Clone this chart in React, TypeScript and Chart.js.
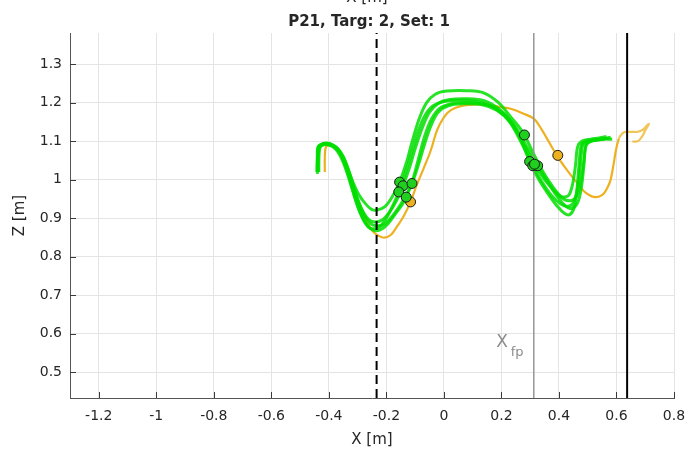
import React, { useEffect, useRef } from 'react';
import { Chart, registerables } from 'chart.js';

Chart.register(...registerables);

type P = [number, number];

const FONT = "'DejaVu Sans', 'Liberation Sans', sans-serif";
const TEXT = '#262626';

// Axis extents and tick values
const xRange: P = [-1.3, 0.8];
const zRange: P = [0.4325, 1.381];
const xTicks = [-1.2, -1, -0.8, -0.6, -0.4, -0.2, 0, 0.2, 0.4, 0.6, 0.8];
const zTicks = [0.5, 0.6, 0.7, 0.8, 0.9, 1.0, 1.1, 1.2, 1.3];

const titleText = 'P21, Targ: 2, Set: 1';
const upperLabel = 'X [m]';

// Reference lines (X positions, m)
const startLineX = -0.234;
const fpLineX = 0.3125;
const endLineX = 0.637;

// Hand trajectories in the X–Z plane (X, Z in metres)
const trialA: P[] = [
  [-0.442, 1.02], [-0.44, 1.06], [-0.438, 1.085], [-0.42, 1.092], [-0.395, 1.09], [-0.37, 1.08],
  [-0.345, 1.05], [-0.32, 1.0], [-0.295, 0.96], [-0.27, 0.935], [-0.25, 0.922], [-0.232, 0.921],
  [-0.205, 0.93], [-0.18, 0.955], [-0.154, 0.9935], [-0.13, 1.045], [-0.11, 1.1], [-0.085, 1.16],
  [-0.06, 1.2], [-0.03, 1.222], [0.01, 1.23], [0.08, 1.231], [0.14, 1.225], [0.19, 1.2],
  [0.23, 1.165], [0.258, 1.14], [0.28, 1.116], [0.31, 1.07], [0.345, 1.02], [0.38, 0.98],
  [0.405, 0.958], [0.42, 0.955], [0.435, 0.96], [0.448, 0.99], [0.458, 1.04], [0.465, 1.085],
  [0.48, 1.1], [0.51, 1.105], [0.54, 1.108], [0.565, 1.112],
];

const trialB: P[] = [
  [-0.44, 1.015], [-0.437, 1.07], [-0.43, 1.09], [-0.405, 1.093], [-0.38, 1.085], [-0.355, 1.06],
  [-0.33, 1.01], [-0.305, 0.955], [-0.28, 0.915], [-0.26, 0.895], [-0.24, 0.89], [-0.215, 0.895],
  [-0.19, 0.915], [-0.165, 0.945], [-0.142, 0.984], [-0.12, 1.03], [-0.1, 1.08], [-0.075, 1.135],
  [-0.05, 1.175], [-0.02, 1.198], [0.02, 1.208], [0.08, 1.21], [0.14, 1.205], [0.19, 1.185],
  [0.235, 1.15], [0.27, 1.1], [0.298, 1.047], [0.33, 1.0], [0.365, 0.96], [0.395, 0.93],
  [0.42, 0.912], [0.437, 0.909], [0.452, 0.925], [0.462, 0.97], [0.47, 1.04], [0.478, 1.09],
  [0.495, 1.1], [0.53, 1.104], [0.57, 1.108],
];

const trialC: P[] = [
  [-0.435, 1.02], [-0.433, 1.075], [-0.425, 1.088], [-0.4, 1.09], [-0.375, 1.078], [-0.35, 1.045],
  [-0.325, 0.99], [-0.3, 0.93], [-0.28, 0.895], [-0.262, 0.876], [-0.245, 0.872], [-0.225, 0.876],
  [-0.2, 0.9], [-0.178, 0.932], [-0.157, 0.968], [-0.135, 1.015], [-0.112, 1.07], [-0.09, 1.125],
  [-0.065, 1.168], [-0.035, 1.193], [0.01, 1.204], [0.07, 1.206], [0.13, 1.2], [0.185, 1.182],
  [0.23, 1.148], [0.27, 1.095], [0.309, 1.036], [0.34, 0.995], [0.375, 0.958], [0.405, 0.937],
  [0.43, 0.93], [0.45, 0.94], [0.465, 0.98], [0.475, 1.04], [0.483, 1.09], [0.5, 1.1],
  [0.54, 1.104], [0.575, 1.108],
];

const trialD: P[] = [
  [-0.44, 1.03], [-0.438, 1.08], [-0.43, 1.09], [-0.41, 1.095], [-0.385, 1.09], [-0.36, 1.07],
  [-0.335, 1.02], [-0.31, 0.955], [-0.285, 0.905], [-0.265, 0.88], [-0.245, 0.868], [-0.22, 0.87],
  [-0.195, 0.885], [-0.165, 0.915], [-0.145, 0.935], [-0.131, 0.9545], [-0.11, 0.995], [-0.09, 1.05],
  [-0.068, 1.11], [-0.045, 1.155], [-0.015, 1.185], [0.03, 1.198], [0.09, 1.2], [0.15, 1.195],
  [0.2, 1.175], [0.245, 1.14], [0.285, 1.09], [0.326, 1.036], [0.36, 0.995], [0.395, 0.955],
  [0.425, 0.93], [0.445, 0.925], [0.465, 0.94], [0.478, 0.98], [0.487, 1.04], [0.494, 1.09],
  [0.51, 1.1], [0.55, 1.104], [0.58, 1.11],
];

const trialE: P[] = [
  [-0.437, 1.02], [-0.435, 1.08], [-0.42, 1.093], [-0.4, 1.092], [-0.375, 1.085], [-0.35, 1.06],
  [-0.325, 1.01], [-0.3, 0.95], [-0.275, 0.905], [-0.255, 0.885], [-0.235, 0.88], [-0.21, 0.883],
  [-0.185, 0.9], [-0.16, 0.925], [-0.135, 0.955], [-0.111, 0.99], [-0.09, 1.035], [-0.068, 1.09],
  [-0.045, 1.14], [-0.02, 1.175], [0.015, 1.192], [0.07, 1.197], [0.13, 1.195], [0.185, 1.18],
  [0.23, 1.15], [0.275, 1.095], [0.315, 1.04], [0.35, 1.0], [0.385, 0.97], [0.415, 0.95],
  [0.44, 0.945], [0.46, 0.955], [0.475, 0.99], [0.487, 1.05], [0.495, 1.09], [0.515, 1.1],
  [0.55, 1.105], [0.585, 1.105],
];

// Reference (template) trajectory
const templateTrial: P[] = [
  [-0.414, 1.02], [-0.414, 1.06], [-0.41, 1.085], [-0.395, 1.09], [-0.37, 1.08], [-0.345, 1.045],
  [-0.32, 0.99], [-0.295, 0.935], [-0.27, 0.893], [-0.25, 0.868], [-0.23, 0.855], [-0.208, 0.849],
  [-0.185, 0.856], [-0.165, 0.876], [-0.14, 0.905], [-0.116, 0.942], [-0.095, 0.985], [-0.07, 1.03],
  [-0.046, 1.075], [-0.023, 1.13], [0, 1.162], [0.023, 1.18], [0.058, 1.191], [0.1, 1.195],
  [0.151, 1.194], [0.2, 1.188], [0.232, 1.184], [0.275, 1.172], [0.313, 1.158], [0.34, 1.13],
  [0.359, 1.106], [0.394, 1.061], [0.418, 1.035], [0.44, 1.013], [0.465, 0.99], [0.487, 0.97],
  [0.505, 0.96], [0.521, 0.955], [0.54, 0.956], [0.556, 0.964], [0.568, 0.978], [0.579, 0.998],
  [0.59, 1.04], [0.597, 1.072], [0.608, 1.106], [0.62, 1.12], [0.631, 1.124], [0.655, 1.124],
  [0.672, 1.124], [0.685, 1.127], [0.695, 1.132], [0.705, 1.14], [0.713, 1.145], [0.708, 1.138],
  [0.7, 1.128], [0.69, 1.113], [0.675, 1.1], [0.655, 1.099],
];

// Event markers
const trialEvents: P[] = [
  [-0.154, 0.9935], [-0.142, 0.984], [-0.111, 0.99], [-0.157, 0.968], [-0.131, 0.9545],
  [0.28, 1.116], [0.298, 1.047], [0.309, 1.036], [0.326, 1.036], [0.315, 1.04],
];
const templateEvents: P[] = [[-0.116, 0.942], [0.396, 1.063]];

const toXY = (pts: P[]) => pts.map(([x, y]) => ({ x, y }));
const fmt = (v: number | string) => String(Math.round(Number(v) * 100) / 100);

const decor = {
  id: 'decor',
  afterDatasetsDraw(chart: any) {
    const { ctx, chartArea, scales } = chart;
    const xs = scales.x;
    const ys = scales.y;
    ctx.save();
    // inward tick marks
    ctx.strokeStyle = '#3a3a3a';
    ctx.lineWidth = 1;
    ctx.beginPath();
    xTicks.forEach((v) => {
      const px = Math.round(xs.getPixelForValue(v)) + 0.5;
      ctx.moveTo(px, chartArea.bottom);
      ctx.lineTo(px, chartArea.bottom - 6);
    });
    zTicks.forEach((v) => {
      const py = Math.round(ys.getPixelForValue(v)) + 0.5;
      ctx.moveTo(chartArea.left, py);
      ctx.lineTo(chartArea.left + 6, py);
    });
    ctx.stroke();
    ctx.restore();
  },
  afterDraw(chart: any) {
    const { ctx, chartArea, scales } = chart;
    const cx = (chartArea.left + chartArea.right) / 2;
    ctx.save();
    ctx.fillStyle = TEXT;
    ctx.textAlign = 'center';
    ctx.textBaseline = 'alphabetic';
    ctx.font = `15px ${FONT}`;
    ctx.fillText(upperLabel, cx - 5, 2);
    ctx.font = `bold 15px ${FONT}`;
    ctx.fillText(titleText, cx - 3, 26);

    // X_fp label beside the grey line
    const fpx = scales.x.getPixelForValue(fpLineX);
    ctx.fillStyle = '#8c8c8c';
    ctx.textAlign = 'left';
    ctx.font = `17px ${FONT}`;
    ctx.fillText('X', fpx - 37.5, 347);
    ctx.font = `13px ${FONT}`;
    ctx.fillText('fp', fpx - 23, 356);
    ctx.restore();
  },
};

const vline = (x: number, color: string, width: number, dash: number[] = []) => ({
  data: toXY([[x, zRange[0]], [x, zRange[1]]]),
  showLine: true,
  borderColor: color,
  borderWidth: width,
  borderDash: dash,
  pointRadius: 0,
  order: 1,
});

const trialLine = (pts: P[]) => ({
  data: toXY(pts),
  showLine: true,
  borderColor: 'rgba(0, 222, 0, 0.85)',
  borderWidth: 3,
  tension: 0.35,
  pointRadius: 0,
  order: 2,
});

export default function App() {
  const ref = useRef<HTMLCanvasElement | null>(null);

  useEffect(() => {
    if (!ref.current) return;
    const chart = new Chart(ref.current, {
      type: 'scatter',
      data: {
        datasets: [
          {
            data: toXY(templateTrial),
            showLine: true,
            borderColor: '#EDB120',
            borderWidth: 2.2,
            tension: 0.35,
            pointRadius: 0,
            order: 3,
            segment: {
              borderColor: (c: any) => (c.p0.parsed.x > 0.6 ? 'rgba(237, 177, 32, 0.75)' : '#EDB120'),
            },
          } as any,
          trialLine(trialA),
          trialLine(trialB),
          trialLine(trialC),
          trialLine(trialD),
          trialLine(trialE),
          vline(startLineX, '#000000', 2, [9, 5]),
          vline(fpLineX, 'rgb(150,150,150)', 1.5),
          vline(endLineX, '#000000', 2),
          {
            data: toXY(trialEvents),
            pointRadius: 5,
            pointBackgroundColor: '#1fd01f',
            pointBorderColor: '#1a1a1a',
            pointBorderWidth: 1,
            order: 0,
          },
          {
            data: toXY(templateEvents),
            pointRadius: 5,
            pointBackgroundColor: '#EDB120',
            pointBorderColor: '#1a1a1a',
            pointBorderWidth: 1,
            order: 0,
          },
        ] as any,
      },
      options: {
        animation: false,
        responsive: false,
        devicePixelRatio: 1,
        layout: { padding: { top: 33, right: 25, left: 0, bottom: 0 } },
        plugins: { legend: { display: false }, tooltip: { enabled: false }, title: { display: false } },
        scales: {
          x: {
            type: 'linear',
            min: xRange[0],
            max: xRange[1],
            afterBuildTicks: (s: any) => {
              s.ticks = xTicks.map((value) => ({ value }));
            },
            afterFit: (s: any) => {
              s.height = 58;
            },
            grid: { color: '#e4e4e4', lineWidth: 1, drawTicks: false },
            border: { display: true, color: '#555555', width: 1 },
            ticks: {
              padding: 10,
              color: TEXT,
              font: { family: FONT, size: 14 },
              maxRotation: 0,
              autoSkip: false,
              callback: (v: any) => fmt(v),
            },
            title: {
              display: true,
              text: 'X [m]',
              color: TEXT,
              font: { family: FONT, size: 15 },
              padding: { top: 0, bottom: 7 },
            },
          },
          y: {
            type: 'linear',
            min: zRange[0],
            max: zRange[1],
            afterBuildTicks: (s: any) => {
              s.ticks = zTicks.map((value) => ({ value }));
            },
            afterFit: (s: any) => {
              s.width = 70;
            },
            grid: { color: '#e4e4e4', lineWidth: 1, drawTicks: false },
            border: { display: true, color: '#555555', width: 1 },
            ticks: {
              padding: 8,
              color: TEXT,
              font: { family: FONT, size: 14 },
              autoSkip: false,
              callback: (v: any) => fmt(v),
            },
            title: {
              display: true,
              text: 'Z [m]',
              color: TEXT,
              font: { family: FONT, size: 15 },
              padding: { top: 11, bottom: 0 },
            },
          },
        },
      } as any,
      plugins: [decor],
    });
    return () => chart.destroy();
  }, []);

  return (
    <div style={{ position: 'fixed', left: 0, top: 0, width: 699, height: 456, background: '#fff' }}>
      <canvas ref={ref} width={699} height={456} style={{ display: 'block' }} />
    </div>
  );
}
